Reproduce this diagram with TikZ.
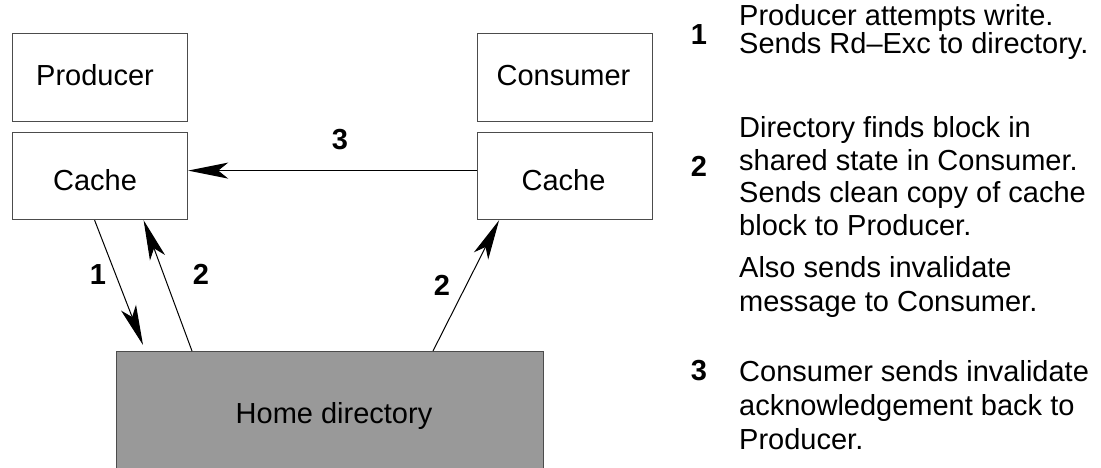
\documentclass[tikz,border=0pt]{standalone}
\usepackage{fontspec}
\setmainfont{Liberation Sans}
\usetikzlibrary{arrows.meta}
\begin{document}
\begin{tikzpicture}[x=1pt,y=-1pt,
  box/.style={draw=black!70, line width=1.2pt, minimum width=175pt,
    minimum height=88pt, inner sep=0pt, anchor=north west},
  cachebox/.style={box, minimum height=87pt},
  homebox/.style={draw=black!70, fill=black!40, line width=1.2pt,
    minimum width=427pt, minimum height=160pt, inner sep=0pt, anchor=north west},
  txt/.style={inner sep=0pt, anchor=base, font=\fontsize{29}{33.5}\selectfont},
  num/.style={txt, font=\fontsize{29}{33.5}\selectfont\bfseries},
  para/.style={inner sep=0pt, anchor=base west, align=left},
  msg/.style={-{Stealth[length=40pt,width=16pt,inset=10pt]}, line width=1pt},
]
\useasboundingbox (0,0) rectangle (1101,468);

% processor / cache boxes
\node[box]      (prod)   at (12,33)  {};
\node[cachebox] (lcache) at (12,132) {};
\node[box]      (cons)   at (477,33) {};
\node[cachebox] (rcache) at (477,132) {};
\node[homebox]  (home)   at (116,351) {};

\node[txt] (prodtxt)  at (95,86)    {Producer};
\node[txt] (lcachetxt) at (95,190)  {Cache};
\node[txt] (constxt)  at (563.5,86) {Consumer};
\node[txt] (rcachetxt) at (563.5,190) {Cache};
\node[txt] (hometxt)  at (334,423)  {Home directory};

% messages
\coordinate (req) at (143,345);
\draw[msg] ([yshift=5.5pt]rcache.west) -- ([yshift=5.5pt]lcache.east);
\draw[msg] ([xshift=-5.5pt]lcache.south) -- (req);
\draw[msg] ([xshift=76pt]home.north west) -- ([xshift=43.5pt]lcache.south);
\draw[msg] ([xshift=317pt]home.north west) -- ([xshift=-66pt]rcache.south);

\node[num] (l3)  at (340,150) {3};
\node[num] (l1)  at (98,284)  {1};
\node[num] (l2a) at (201,284) {2};
\node[num] (l2b) at (442,295) {2};

% step descriptions (anchored on the baseline of their last line)
\node[num] (n1) at (699,45)  {1};
\node[num] (n2) at (699,176) {2};
\node[num] (n3) at (699,380) {3};

\node[para, font=\fontsize{29}{21}\selectfont] (d1) at (739,54)
  {Producer attempts write.\\Sends Rd–Exc to directory.};
\node[para, font=\fontsize{29}{33}\selectfont] (d2) at (739,236)
  {Directory finds block in\\shared state in Consumer.\\Sends clean copy of cache\\block to Producer.};
\node[para, font=\fontsize{29}{34}\selectfont] (d2b) at (739,311)
  {Also sends invalidate\\message to Consumer.};
\node[para, font=\fontsize{29}{34}\selectfont] (d3) at (739,449)
  {Consumer sends invalidate\\acknowledgement back to\\Producer.};
\end{tikzpicture}
\end{document}
